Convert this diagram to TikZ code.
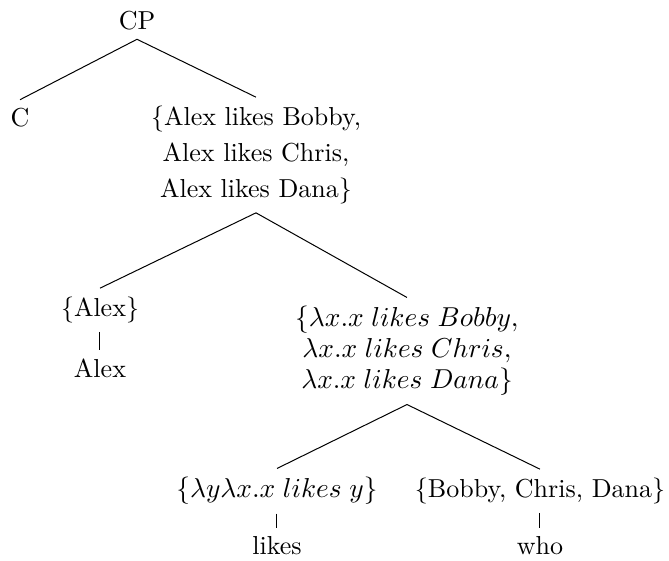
\documentclass[tikz,border=0pt]{standalone}
\begin{document}
\begin{tikzpicture}[x=0.4pt,y=-0.4pt,
  main/.style = {align=center,font=\fontsize{10.4}{14.4}\selectfont},
  sem/.style = {align=center,font=\fontsize{10.8}{12.4}\selectfont}]
\useasboundingbox (0,0) rectangle (669,561);
\node[main] (cp) at (137,21) {CP};
\node[main] (c) at (20,118) {C};
\node[main] (q) at (256,155) {\{Alex likes Bobby,\\ Alex likes Chris,\\ Alex likes Dana\}};
\node[main] (alexset) at (100,310) {\{Alex\}};
\node[main] (alex) at (100,368) {Alex};
\node[sem] (fn) at (407,351) {$\{\lambda x.x\;likes\;Bobby,$\\ $\lambda x.x\;likes\;Chris,$\\ $\lambda x.x\;likes\;Dana\}$};
\node[sem] (likesset) at (277,491) {$\{\lambda y\lambda x.x\;likes\;y\}$};
\node[main] (likes) at (277,546) {likes};
\node[main] (whoset) at (540,491) {\{Bobby, Chris, Dana\}};
\node[main] (who) at (540,546) {who};
\draw (cp.south) -- (c.north);
\draw (cp.south) -- (q.north);
\draw (q.south) -- (alexset.north);
\draw (q.south) -- (fn.north);
\draw (alexset.south) -- (alex.north);
\draw (fn.south) -- (likesset.north);
\draw (fn.south) -- (whoset.north);
\draw (likesset.south) -- (likes.north);
\draw (whoset.south) -- (who.north);
\end{tikzpicture}
\end{document}
